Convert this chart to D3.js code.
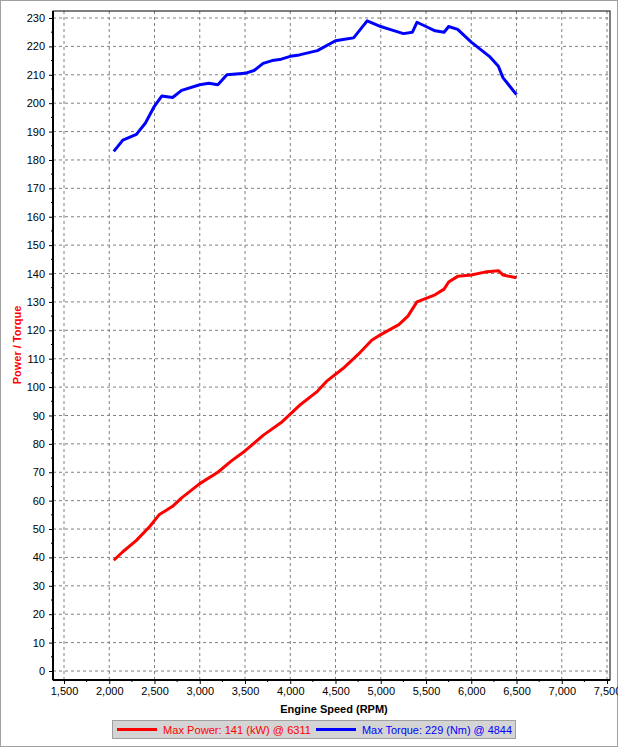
<!DOCTYPE html>
<html><head><meta charset="utf-8">
<script src="https://cdn.jsdelivr.net/npm/d3@7"></script>
<style>
body{margin:0;background:#fff;font-family:"Liberation Sans",Arial,sans-serif;}
.tick text{font-size:11px;fill:#000;}
</style></head><body><div id="c"></div>
<script>
var rpmTorque = [2050,2150,2300,2400,2500,2580,2700,2800,3000,3100,3200,3300,3500,3600,3700,3800,3900,4000,4100,4300,4500,4600,4700,4850,5000,5100,5250,5350,5400,5500,5600,5700,5750,5850,6000,6200,6300,6350,6500];
var torque = [183,187,189,193,199,202.5,202,204.5,206.5,207,206.5,210,210.5,211.5,214,215,215.5,216.5,217,218.5,222,222.5,223,229,227,226,224.5,225,228.5,227,225.5,225,227,226,221.5,216.5,213,209,203];
var rpmPower = [2050,2150,2300,2450,2550,2700,2800,3000,3200,3350,3500,3700,3900,4100,4300,4400,4600,4750,4900,5000,5200,5300,5400,5600,5700,5750,5850,6000,6150,6300,6350,6500];
var power = [39,42,46,51,55,58,61,66,70,74,77.5,83,87.5,93.5,98.5,102,107,111.5,116.5,118.5,122,125,130,132.5,134.5,137,139,139.5,140.5,141,139.5,138.5];
var xTicks = d3.range(1500, 7501, 500);
var yTicks = d3.range(0, 231, 10);

var W = 618, H = 747;
var svg = d3.select("#c").append("svg").attr("width", W).attr("height", H);
svg.append("rect").attr("x",0.5).attr("y",0.5).attr("width",W-1).attr("height",H-1)
    .attr("fill","#fff").attr("stroke","#a0a0a0");

var L = 53, R = 610, T = 11, B = 680;
var x = d3.scaleLinear().domain([1500, 7500]).range([64, 607]);
var y = d3.scaleLinear().domain([0, 230]).range([671, 18]);

var g = svg.append("g");
g.selectAll(".gx").data(xTicks).enter().append("line")
    .attr("x1", d => x(d)).attr("x2", d => x(d)).attr("y1", T).attr("y2", B)
    .attr("stroke", "#808080").attr("stroke-dasharray", "3,3");
g.selectAll(".gy").data(yTicks).enter().append("line")
    .attr("x1", L).attr("x2", R).attr("y1", d => y(d)).attr("y2", d => y(d))
    .attr("stroke", "#808080").attr("stroke-dasharray", "3,3");
g.append("rect").attr("x", L).attr("y", T).attr("width", R - L).attr("height", B - T)
    .attr("fill", "none").attr("stroke", "#000").attr("stroke-width", 1);
g.append("line").attr("x1", L).attr("x2", L).attr("y1", T).attr("y2", B).attr("stroke", "#000").attr("stroke-width", 2);
g.append("line").attr("x1", L).attr("x2", R).attr("y1", B).attr("y2", B).attr("stroke", "#000").attr("stroke-width", 2);

var fmt = d3.format(",");
var xa = svg.append("g").attr("transform", "translate(0," + B + ")")
    .call(d3.axisBottom(x).tickValues(xTicks).tickFormat(fmt).tickSize(4).tickPadding(3));
var ya = svg.append("g").attr("transform", "translate(" + L + ",0)")
    .call(d3.axisLeft(y).tickValues(yTicks).tickSize(4).tickPadding(4));
[xa, ya].forEach(a => { a.select(".domain").remove(); a.selectAll("text").attr("font-family", "Liberation Sans"); });
xa.selectAll("text").attr("font-size", 10.5);
svg.selectAll(".mx").data(d3.range(1750, 7500, 500)).enter().append("line")
    .attr("x1", d => x(d)).attr("x2", d => x(d)).attr("y1", B).attr("y2", B + 2).attr("stroke", "#000");
svg.selectAll(".my").data(d3.range(5, 230, 10)).enter().append("line")
    .attr("x1", L - 2).attr("x2", L).attr("y1", d => y(d)).attr("y2", d => y(d)).attr("stroke", "#000");

svg.append("text").attr("x", 334).attr("y", 713).attr("text-anchor", "middle")
    .attr("font-size", 11).attr("font-weight", "bold").text("Engine Speed (RPM)");
svg.append("text").attr("transform", "translate(21,345) rotate(-90)").attr("text-anchor", "middle")
    .attr("font-size", 11).attr("font-weight", "bold").attr("fill", "#f00").text("Power / Torque");

var line = d3.line().x(d => x(d[0])).y(d => y(d[1]));
svg.append("path").datum(d3.zip(rpmTorque, torque)).attr("d", line)
    .attr("fill", "none").attr("stroke", "#0000ff").attr("stroke-width", 3).attr("stroke-linejoin", "round");
svg.append("path").datum(d3.zip(rpmPower, power)).attr("d", line)
    .attr("fill", "none").attr("stroke", "#ff0000").attr("stroke-width", 3).attr("stroke-linejoin", "round");

var lg = svg.append("g");
lg.append("rect").attr("x", 112.5).attr("y", 720.5).attr("width", 403).attr("height", 18)
    .attr("fill", "#d4d4d4").attr("stroke", "#a0a0a0");
var items = [["Max Power: 141 (kW) @ 6311", "#ff0000", 117, 148], ["Max Torque: 229 (Nm) @ 4844", "#0000ff", 316, 150]];
items.forEach(function(it) {
    lg.append("line").attr("x1", it[2]).attr("x2", it[2] + 40).attr("y1", 729.5).attr("y2", 729.5)
        .attr("stroke", it[1]).attr("stroke-width", 3);
    lg.append("text").attr("x", it[2] + 46).attr("y", 733.5).attr("font-size", 11).attr("fill", it[1])
        .attr("textLength", it[3]).attr("lengthAdjust", "spacingAndGlyphs").text(it[0]);
});
</script></body></html>
